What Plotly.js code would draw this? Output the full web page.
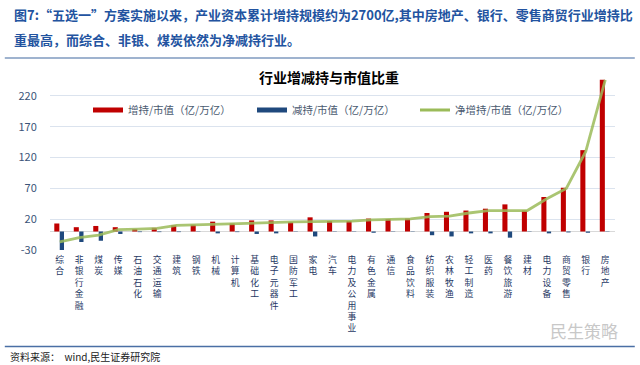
<!DOCTYPE html>
<html>
<head>
<meta charset="utf-8">
<script src="https://cdn.plot.ly/plotly-3.0.1.min.js"></script>
<style>
  html, body { margin: 0; padding: 0; background: #ffffff; }
  #chart { width: 640px; height: 365px; }
</style>
</head>
<body>
<div id="chart"></div>
<script>
// ---- data ----
const categories = ["综合","非银行金融","煤炭","传媒","石油石化","交通运输","建筑","钢铁","机械","计算机",
  "基础化工","电子元器件","国防军工","家电","汽车","电力及公用事业","有色金属","通信","食品饮料","纺织服装",
  "农林牧渔","轻工制造","医药","餐饮旅游","建材","电力设备","商贸零售","银行","房地产"];
const increase = [13, 7, 9, 7, 4, 6, 10, 11, 16, 13,
  18, 18, 15, 23, 17, 17, 21, 20, 21, 30,
  32, 34, 37, 44, 34, 56, 71, 132, 246];
const decrease = [-30, -17, -15, -4, -1, -1, -1, -0.5, -3, -1,
  -4, -3, -0.5, -8, -0.5, -0.5, -2, -0.5, -0.5, -6,
  -8, -3, -3, -10, -0.5, -3, -1.5, -2, -0.5];
const net = [-17, -10, -6, 3, 4, 5, 10, 11, 12.5, 13,
  14, 15, 15.5, 16, 16.5, 17, 19, 19.5, 20.5, 24,
  25, 30, 34, 34, 34, 53, 70, 130, 246];
const yTicks = [-30, 20, 70, 120, 170, 220];
const seriesNames = ["增持/市值（亿/万亿）", "减持/市值（亿/万亿）", "净增持/市值（亿/万亿）"];
const chartTitle = "行业增减持与市值比重";
const headerLine1 = "图7:“五选一”方案实施以来，产业资本累计增持规模约为2700亿,其中房地产、银行、零售商贸行业增持比";
const headerLine2 = "重最高，而综合、非银、煤炭依然为净减持行业。";
const sourceText = "资料来源：  wind,民生证券研究院";
const watermark = "民生策略";

const RED = "#c00000", BLUE = "#1f497d", GREEN = "#9bbb59";
const FONT = "'Noto Sans CJK SC', 'Noto Sans', sans-serif";
const stacked = categories.map(c => c.split("").join("<br>"));

const traces = [
  { type: "bar", x: categories, y: increase, name: seriesNames[0], marker: { color: RED },
    width: 0.26, offset: -0.28, showlegend: false, hoverinfo: "x+y" },
  { type: "bar", x: categories, y: decrease, name: seriesNames[1], marker: { color: BLUE },
    width: 0.22, offset: 0.0, showlegend: false, hoverinfo: "x+y" },
  { type: "scatter", mode: "lines", x: categories, y: net, name: seriesNames[2],
    line: { color: GREEN, width: 2.8 }, opacity: 0.85, showlegend: false },
  // legend proxies, one legend each so they sit where the reference puts them
  { type: "scatter", mode: "lines", x: [null], y: [null], name: seriesNames[0], line: { color: RED, width: 5 }, legend: "legend" },
  { type: "scatter", mode: "lines", x: [null], y: [null], name: seriesNames[1], line: { color: BLUE, width: 5 }, legend: "legend2" },
  { type: "scatter", mode: "lines", x: [null], y: [null], name: seriesNames[2], line: { color: GREEN, width: 3 }, legend: "legend3" }
];

const legendBase = (x) => ({ orientation: "h", x: x, xanchor: "left", y: 0.778, yanchor: "middle",
  font: { size: 10.5, color: "#4a5a70", family: FONT }, bgcolor: "rgba(0,0,0,0)", borderwidth: 0 });

const layout = {
  width: 640, height: 365,
  margin: { l: 50, r: 25, t: 70, b: 115 },
  paper_bgcolor: "#ffffff", plot_bgcolor: "#ffffff",
  font: { family: FONT, color: "#333" },
  barmode: "overlay",
  showlegend: true,
  legend: legendBase((88 - 50) / 565),
  legend2: legendBase((252 - 50) / 565),
  legend3: legendBase((415 - 50) / 565),
  xaxis: {
    type: "category", tickvals: categories, ticktext: stacked,
    tickfont: { size: 8.8, color: "#1f3864", family: FONT },
    tickangle: 0, showgrid: false, showline: false, ticks: "", automargin: false,
    ticklabelstandoff: 3,
    range: [-0.5, categories.length - 0.5]
  },
  yaxis: {
    range: [-30, 262], tickvals: yTicks, ticktext: yTicks.map(String),
    showgrid: true, gridcolor: "#dbe3ee", gridwidth: 1,
    zeroline: true, zerolinecolor: "#d9d9d9", zerolinewidth: 1,
    tickfont: { size: 11, color: "#3b5478", family: FONT },
    ticks: "outside", ticklen: 10, tickcolor: "rgba(0,0,0,0)", showline: false, automargin: false
  },
  shapes: [
    { type: "line", xref: "paper", yref: "paper", x0: -0.08, x1: 1.035, y0: (250 - 58) / 180, y1: (250 - 58) / 180,
      line: { color: "#9fb3cf", width: 2 } },
    { type: "line", xref: "paper", yref: "paper", x0: -0.08, x1: 1.035, y0: (250 - 346.5) / 180, y1: (250 - 346.5) / 180,
      line: { color: "#4a6fa5", width: 1.5 } }
  ],
  annotations: [
    { text: headerLine1, xref: "paper", yref: "paper", x: (12 - 50) / 565, y: (250 - 15) / 180,
      xanchor: "left", yanchor: "middle", showarrow: false,
      font: { size: 13, color: "#2253a0", family: FONT, weight: "bold" } },
    { text: headerLine2, xref: "paper", yref: "paper", x: (12 - 50) / 565, y: (250 - 40) / 180,
      xanchor: "left", yanchor: "middle", showarrow: false,
      font: { size: 13, color: "#2253a0", family: FONT, weight: "bold" } },
    { text: chartTitle, xref: "paper", yref: "paper", x: (329 - 50) / 565, y: (250 - 77) / 180,
      xanchor: "center", yanchor: "middle", showarrow: false,
      font: { size: 14, color: "#000000", family: FONT, weight: "bold" } },
    { text: watermark, xref: "paper", yref: "paper", x: (620 - 50) / 565, y: (250 - 330) / 180,
      xanchor: "right", yanchor: "middle", showarrow: false,
      font: { size: 17, color: "#c8c8c8", family: FONT } },
    { text: sourceText, xref: "paper", yref: "paper", x: (8 - 50) / 565, y: (250 - 356) / 180,
      xanchor: "left", yanchor: "middle", showarrow: false,
      font: { size: 10, color: "#222222", family: FONT } }
  ]
};

Plotly.newPlot("chart", traces, layout, { displayModeBar: false, staticPlot: true });
</script>
</body>
</html>
